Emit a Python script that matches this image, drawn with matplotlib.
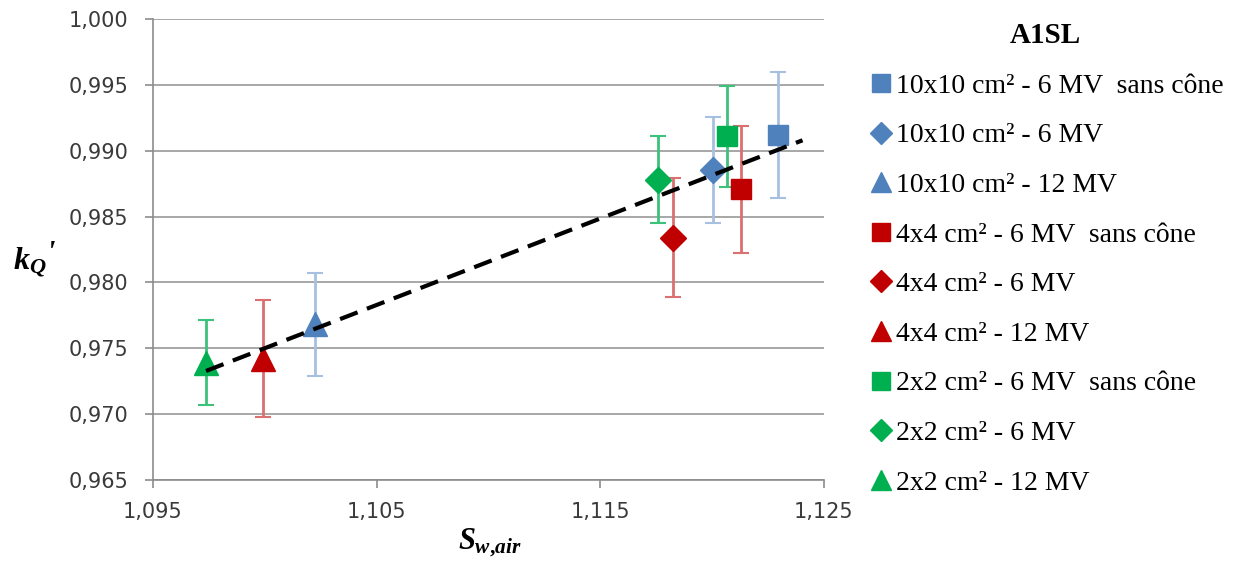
import matplotlib
matplotlib.use("Agg")
import matplotlib.pyplot as plt
from matplotlib.ticker import FuncFormatter
import numpy as np

plt.rcParams['mathtext.fontset'] = 'custom'
plt.rcParams['mathtext.it'] = 'Liberation Serif:italic:bold'
plt.rcParams['mathtext.rm'] = 'Liberation Serif:bold'
plt.rcParams['mathtext.bf'] = 'Liberation Serif:bold'

labels = ["10x10 cm² - 6 MV  sans cône", "10x10 cm² - 6 MV", "10x10 cm² - 12 MV",
          "4x4 cm² - 6 MV  sans cône", "4x4 cm² - 6 MV", "4x4 cm² - 12 MV",
          "2x2 cm² - 6 MV  sans cône", "2x2 cm² - 6 MV", "2x2 cm² - 12 MV"]
sw_air = [1.12294, 1.12004, 1.10224, 1.12129, 1.11825, 1.09992, 1.12066, 1.11758, 1.09737]
kq = [0.99119, 0.98854, 0.97681, 0.98706, 0.98341, 0.97422, 0.99108, 0.98781, 0.97392]
err = [0.00478, 0.00402, 0.00390, 0.00482, 0.00452, 0.00444, 0.00383, 0.00330, 0.00323]
x_ticks = [1.095, 1.105, 1.115, 1.125]
y_ticks = [0.965, 0.970, 0.975, 0.980, 0.985, 0.990, 0.995, 1.000]
markers = ['s', 'D', '^', 's', 'D', '^', 's', 'D', '^']
colors = ['#4F81BD', '#4F81BD', '#4F81BD', '#C00000', '#C00000', '#C00000',
          '#00B050', '#00B050', '#00B050']
err_colors = ['#A7C0E0', '#A7C0E0', '#A7C0E0', '#DA7070', '#DA7070', '#DA7070',
              '#3CC27A', '#3CC27A', '#3CC27A']
msizes = [14.5, 13, 17, 14.5, 13, 17, 14.5, 13, 17]

fig = plt.figure(figsize=(12.36, 5.70), dpi=100)
ax = fig.add_axes([153/1236, 1-480/570, (824-153)/1236, (480-19)/570])

handles = []
for x, y, e, m, c, ec, ms, lab in zip(sw_air, kq, err, markers, colors, err_colors, msizes, labels):
    ax.errorbar([x], [y], yerr=[e], fmt='none', ecolor=ec, elinewidth=2, capsize=6,
                capthick=1.5, zorder=3)
    h, = ax.plot([x], [y], marker=m, color=c, markersize=ms, linestyle='none', zorder=4,
                 label=lab)
    handles.append(h)

# linear trendline
slope, intercept = np.polyfit(sw_air, kq, 1)
xt = np.array([min(sw_air), max(sw_air) + 0.0011])
ax.plot(xt, slope * xt + intercept, color='black', linestyle=(0, (4.5, 2.4)), linewidth=3,
        zorder=5)

ax.set_xlim(1.095, 1.125)
ax.set_ylim(0.965, 1.000)
ax.set_xticks(x_ticks)
ax.set_yticks(y_ticks)
fmt = FuncFormatter(lambda v, p: f"{v:.3f}".replace('.', ','))
ax.xaxis.set_major_formatter(fmt)
ax.yaxis.set_major_formatter(fmt)
ax.grid(axis='y', color='#A0A0A0', linewidth=1.3)
ax.set_axisbelow(True)
for s in ['top', 'right']:
    ax.spines[s].set_visible(False)
for s in ['left', 'bottom']:
    ax.spines[s].set_color('#8C8C8C')
    ax.spines[s].set_linewidth(1.2)
ax.tick_params(axis='both', colors='#8C8C8C', length=6, width=1.2, labelsize=15,
               labelcolor='#3A3A3A')
ax.tick_params(axis='y', direction='out', pad=12)
ax.tick_params(axis='x', direction='out', pad=10)

fig.text(30/1236, 1-262/570, r"$k_{Q}$", fontsize=23, ha='center', va='center')
fig.text(51/1236, 1-254/570, "'", fontsize=22, ha='center', va='center',
         family='Liberation Serif', style='italic', weight='bold')
fig.text(490/1236, 1-543/570, r"$S_{w{,}air}$", fontsize=22, ha='center', va='center')

leg = fig.legend(handles=handles, loc='upper left', bbox_to_anchor=(856/1236, 1-11/570),
                 frameon=False, title='A1SL',
                 prop={'family': 'Liberation Serif', 'size': 20},
                 title_fontproperties={'family': 'Liberation Serif', 'size': 21, 'weight': 'bold'},
                 labelspacing=0.87, handletextpad=0.05, handlelength=1.0, markerscale=0.85,
                 borderaxespad=0)

fig.savefig("out.png", dpi=100)
